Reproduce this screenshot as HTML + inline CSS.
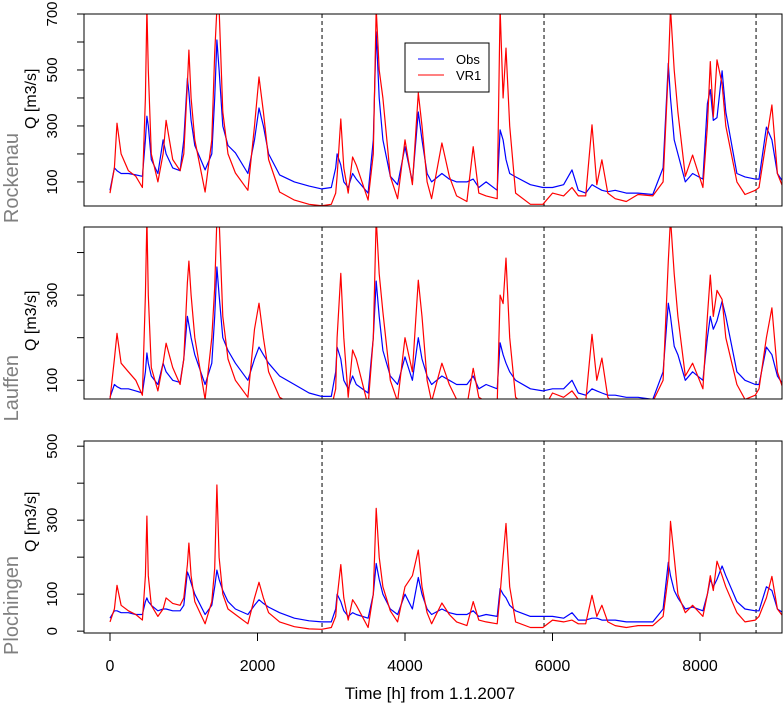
<!DOCTYPE html>
<html><head><meta charset="utf-8"><style>
body{margin:0;background:#fff;}
svg{display:block;font-family:"Liberation Sans",Arial,sans-serif;}
</style></head><body>
<svg id="chart" width="783" height="707" viewBox="0 0 783 707" xmlns="http://www.w3.org/2000/svg"></svg>
<script>
const times=[0,60,95,150,250,350,440,480,500,520,560,650,720,760,850,950,1000,1050,1070,1100,1150,1290,1380,1420,1450,1480,1530,1600,1700,1870,1960,2020,2080,2150,2300,2500,2700,2870,3000,3060,3080,3130,3170,3230,3290,3340,3500,3570,3610,3650,3700,3800,3900,4000,4100,4180,4230,4300,4360,4500,4600,4700,4840,4925,5000,5100,5250,5290,5330,5370,5420,5500,5700,5870,6000,6150,6265,6350,6450,6535,6600,6670,6750,6850,7000,7160,7360,7500,7570,7600,7650,7700,7800,7900,8040,8100,8140,8180,8230,8300,8350,8500,8610,8750,8800,8900,8975,9050,9125];
const obsRockenau=[70,150,140,130,130,125,120,250,335,300,180,130,250,200,150,140,250,470,420,320,230,143,200,400,607,500,300,230,204,130,250,364,300,200,125,100,85,75,80,150,200,160,100,80,130,110,60,250,636,400,250,120,90,225,100,350,250,130,100,130,110,100,100,110,80,100,70,286,250,180,130,118,90,80,80,90,143,70,60,90,80,70,65,70,60,60,55,150,524,400,250,200,100,130,110,380,430,320,330,497,350,130,118,110,110,296,250,130,100];
const simRockenau=[60,150,310,200,140,120,80,400,720,500,200,100,200,320,180,140,200,450,571,400,250,64,250,560,720,720,350,200,132,70,300,475,350,180,64,35,20,15,20,60,120,325,150,60,189,160,35,200,720,500,400,120,40,250,90,418,300,100,40,239,120,50,30,226,60,50,40,720,400,578,300,60,20,20,60,50,80,50,50,304,90,179,60,40,30,55,50,100,500,720,500,350,120,196,80,300,530,332,536,450,300,100,55,70,80,250,375,130,80];
const obsLauffen=[60,90,85,80,80,75,70,120,164,140,110,90,140,120,100,95,150,250,230,200,160,90,140,250,366,300,200,170,140,100,150,178,160,140,110,90,70,62,62,120,178,150,100,80,110,90,70,200,333,250,170,110,90,155,100,200,150,110,90,110,100,90,90,110,80,90,80,188,160,140,120,100,80,75,80,80,100,70,65,80,75,70,65,65,60,60,55,120,281,250,180,160,100,120,100,200,250,220,240,286,250,120,100,90,90,178,160,110,90];
const simLauffen=[55,150,210,140,120,100,65,300,480,300,130,75,140,187,130,90,150,330,380,300,200,55,200,318,480,480,250,150,100,60,220,281,200,120,60,40,32,30,35,80,200,351,200,60,171,150,40,200,480,350,260,100,50,200,120,335,250,100,50,140,90,55,40,128,60,50,45,300,280,387,200,60,30,30,70,60,75,55,50,208,100,152,60,40,35,55,50,100,380,480,350,250,110,140,80,250,347,250,311,290,200,90,55,65,80,200,270,120,80];
const obsPlochingen=[35,55,55,50,50,45,45,80,90,80,70,55,60,60,55,55,70,160,150,130,100,45,70,120,165,140,110,80,60,45,70,85,75,65,50,35,28,25,25,60,100,80,55,40,50,45,35,100,183,140,100,60,45,100,60,145,100,60,45,60,50,45,45,55,40,45,40,115,100,90,70,55,40,40,40,35,50,30,30,35,35,30,30,30,25,25,25,60,186,150,110,90,60,65,55,100,140,120,140,176,150,80,60,55,55,120,110,60,50];
const simPlochingen=[25,60,124,70,55,45,30,150,311,150,70,40,60,90,75,70,90,180,238,150,80,20,80,170,395,200,100,60,45,20,90,132,90,50,25,12,6,5,10,40,90,180,90,30,85,70,10,100,332,200,120,55,25,120,150,219,120,50,20,76,45,25,15,80,30,25,20,100,200,291,120,25,10,10,30,25,30,20,20,97,40,70,25,15,10,15,15,40,150,297,200,100,50,70,40,100,150,110,189,150,120,50,25,30,40,90,148,60,40];
const xTicks=[0,2000,4000,6000,8000];
const dashTimes=[2875,5885,8760];
const panels=[
 {name:"rockenau",station:"Rockenau",split:131,top:14,bot:206,y0:14,y1:700,ticks:[100,200,300,400,500,600,700],labels:[100,300,500,700],obs:obsRockenau,sim:simRockenau},
 {name:"lauffen",station:"Lauffen",split:353,top:227,bot:399,y0:56,y1:460,ticks:[100,200,300,400],labels:[100,300],obs:obsLauffen,sim:simLauffen},
 {name:"plochingen",station:"Plochingen",split:554,top:441,bot:633,y0:-5,y1:514,ticks:[0,100,200,300,400,500],labels:[0,100,300,500],obs:obsPlochingen,sim:simPlochingen}
];
const L=84,R=782;
const xs=t=>110+t*0.07375;
const NS="http://www.w3.org/2000/svg";
const svg=document.getElementById('chart');
function mk(tag,attrs,parent){const e=document.createElementNS(NS,tag);for(const k in attrs)e.setAttribute(k,attrs[k]);(parent||svg).appendChild(e);return e;}
const defs=mk('defs',{});
panels.forEach((p,i)=>{
 const ys=v=>p.bot-(v-p.y0)/(p.y1-p.y0)*(p.bot-p.top);
 const g=mk('g',{});
 
 
 const cp=mk('clipPath',{id:'clip'+i},defs);
 mk('rect',{x:L,y:p.top,width:R-L,height:p.bot-p.top},cp);
 dashTimes.forEach(t=>{
  const d=mk('line',{x1:xs(t),x2:xs(t),y1:p.top,y2:p.bot,stroke:'#000','stroke-width':1,'stroke-dasharray':'4,3'},g);
  
  
 });
 [['obs','#0000ff',p.obs],['sim','#ff0000',p.sim]].forEach(([nm,col,arr])=>{
  const pts=times.map((t,k)=>xs(t).toFixed(1)+','+ys(arr[k]).toFixed(1)).join(' ');
  const pl=mk('polyline',{points:pts,fill:'none',stroke:col,'stroke-width':1.2,'clip-path':'url(#clip'+i+')','stroke-linejoin':'round'},g);
  
  
 });
 const fr=mk('rect',{x:L,y:p.top,width:R-L,height:p.bot-p.top,fill:'none',stroke:'#000','stroke-width':1},g);
 
 
 p.ticks.forEach(v=>{mk('line',{x1:L-7,x2:L,y1:ys(v),y2:ys(v),stroke:'#000'},g);});
 p.labels.forEach(v=>{
  const tx=mk('text',{x:0,y:0,transform:`translate(57,${ys(v)}) rotate(-90)`,'text-anchor':'middle','font-size':15,fill:'#000'},g);
  tx.textContent=v;
  
  
 });
 const st=mk('text',{x:0,y:0,transform:`translate(18,${p.split+2}) rotate(-90)`,'text-anchor':'end','font-size':20,fill:'#808080'},g);
 st.textContent=p.station;
 
 
 const ql=mk('text',{x:0,y:0,transform:`translate(36,${p.split-2}) rotate(-90)`,'text-anchor':'start','font-size':16,fill:'#000'},g);
 ql.textContent='Q [m3/s]';
 
 
});
xTicks.forEach(t=>{
 mk('line',{x1:xs(t),x2:xs(t),y1:633,y2:641,stroke:'#000'});
 const tx=mk('text',{x:xs(t),y:671,'text-anchor':'middle','font-size':16,fill:'#000'});
 tx.textContent=t;
 
 
});
const xt=mk('text',{x:430,y:699,'text-anchor':'middle','font-size':17,fill:'#000'});
xt.textContent='Time [h] from 1.1.2007';


const lg=mk('g',{});


mk('rect',{x:405,y:43,width:84,height:49,fill:'#fff',stroke:'#000'},lg);
mk('line',{x1:418,x2:444,y1:59,y2:59,stroke:'#0000ff'},lg);
mk('line',{x1:418,x2:444,y1:75,y2:75,stroke:'#ff0000'},lg);
const l1=mk('text',{x:456,y:64,'font-size':13},lg);l1.textContent='Obs';


const l2=mk('text',{x:456,y:80,'font-size':13},lg);l2.textContent='VR1';


</script>
</body></html>
